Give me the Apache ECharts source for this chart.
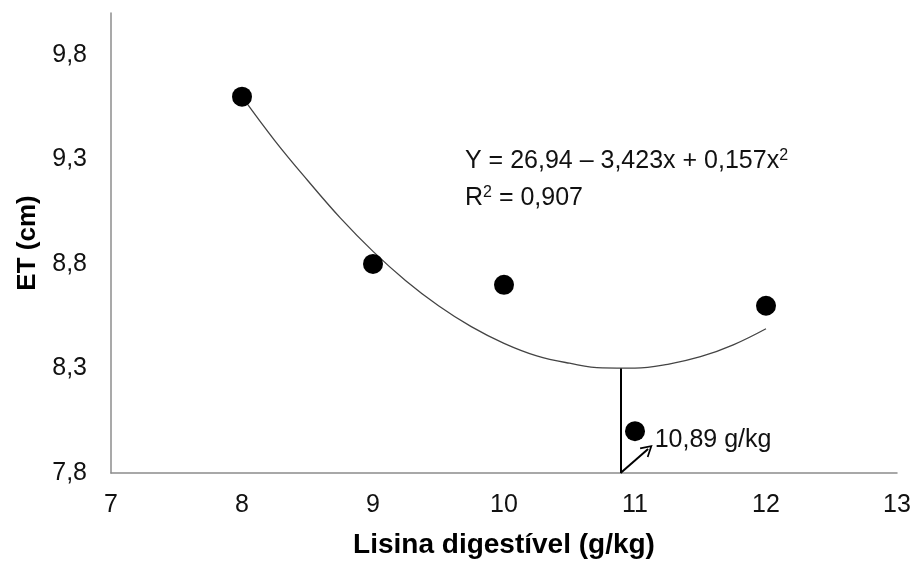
<!DOCTYPE html>
<html>
<head>
<meta charset="utf-8">
<script src="https://cdn.jsdelivr.net/npm/echarts@6/dist/echarts.min.js"></script>
<style>
html,body{margin:0;padding:0;background:#fff;}
#chart{width:915px;height:564px;}
</style>
</head>
<body>
<div id="chart"></div>
<script>
// Observed points
const lysine = [8, 9, 10, 11, 12];
const etValues = [9.60, 8.80, 8.70, 8.00, 8.60];
// Fitted curve
const curveX = [8, 8.25, 8.5, 8.75, 9, 9.25, 9.5, 9.75, 10, 10.25, 10.5, 10.75, 11, 11.25, 11.5, 11.75, 12];
const curveY = [9.60, 9.39, 9.20, 9.02, 8.86, 8.72, 8.60, 8.50, 8.42, 8.36, 8.325, 8.303, 8.302, 8.32, 8.356, 8.413, 8.49];
// Optimum marker
const optimumX = 10.89;
const optimumY = 8.30;
const arrowFrom = [10.89, 7.8];
const arrowTo = [11.10, 7.915];
const optimumLabel = '10,89 g/kg';
const labelPos = [11.15, 7.955];
// Axis ticks
const yTicks = [7.8, 8.3, 8.8, 9.3, 9.8];
const xTicks = [7, 8, 9, 10, 11, 12, 13];
const eqLine1 = 'Y = 26,94 – 3,423x + 0,157x{sup|2}';
const eqLine2 = 'R{sup|2} = 0,907';

const FONT = '"Liberation Sans", Arial, sans-serif';
const chart = echarts.init(document.getElementById('chart'), null, {renderer: 'canvas'});

const curveData = curveX.map((x, i) => [x, curveY[i]]);
const pointData = lysine.map((x, i) => [x, etValues[i]]);

chart.setOption({
  animation: false,
  backgroundColor: '#ffffff',
  grid: {left: 111, right: 18, top: 13, bottom: 87.5, containLabel: false},
  xAxis: {
    type: 'value', min: xTicks[0], max: xTicks[xTicks.length - 1], interval: 1,
    name: 'Lisina digestível (g/kg)', nameLocation: 'middle', nameGap: 58,
    nameTextStyle: {fontFamily: FONT, fontSize: 28, fontWeight: 'bold', color: '#000'},
    axisLine: {lineStyle: {color: '#8c8c8c', width: 1.5}},
    axisTick: {show: false},
    splitLine: {show: false},
    axisLabel: {fontFamily: FONT, fontSize: 25, color: '#111', margin: 20}
  },
  yAxis: {
    type: 'value', min: 7.8, max: 10, interval: 0.5,
    name: 'ET (cm)', nameLocation: 'middle', nameGap: 70, nameRotate: 90,
    nameTextStyle: {fontFamily: FONT, fontSize: 26, fontWeight: 'bold', color: '#000'},
    axisLine: {show: true, lineStyle: {color: '#8c8c8c', width: 1.5}},
    axisTick: {show: false},
    splitLine: {show: false},
    axisLabel: {
      fontFamily: FONT, fontSize: 25, color: '#111', margin: 24,
      formatter: v => yTicks.some(t => Math.abs(t - v) < 1e-6) ? v.toFixed(1).replace('.', ',') : ''
    }
  },
  series: [
    {
      type: 'line', data: curveData, smooth: 0.4, showSymbol: false, symbol: 'none',
      lineStyle: {color: '#444', width: 1.3}, silent: true, z: 2,
      markLine: {
        silent: true, symbol: ['none', 'none'], label: {show: false},
        lineStyle: {color: '#000', width: 2, type: 'solid', opacity: 1},
        data: [
          [{coord: [optimumX, optimumY]}, {coord: [optimumX, 7.8]}],
          [{coord: arrowFrom, symbol: 'none'},
           {coord: arrowTo, symbol: 'path://M0,11 L6,0 L12,11 L10.6,11.8 L6,3.4 L1.4,11.8 Z', symbolSize: [13, 12]}]
        ]
      }
    },
    {
      type: 'scatter', data: pointData, symbol: 'circle', symbolSize: 20,
      itemStyle: {color: '#000', opacity: 1}, z: 3
    },
    {
      type: 'scatter', data: [labelPos], symbolSize: 0, silent: true,
      itemStyle: {opacity: 1},
      label: {show: true, position: 'right', distance: 0, formatter: optimumLabel,
        fontFamily: FONT, fontSize: 25, color: '#111', opacity: 1}
    }
  ],
  graphic: [
    {type: 'text', left: 465, top: 148, style: {text: eqLine1, fontFamily: FONT, fontSize: 25, fill: '#111',
      rich: {sup: {fontSize: 16, verticalAlign: 'top', fontFamily: FONT, fill: '#111', padding: [0, 0, 10, 0]}}}},
    {type: 'text', left: 465, top: 185, style: {text: eqLine2, fontFamily: FONT, fontSize: 25, fill: '#111',
      rich: {sup: {fontSize: 16, verticalAlign: 'top', fontFamily: FONT, fill: '#111', padding: [0, 0, 10, 0]}}}}
  ]
});
</script>
</body>
</html>
